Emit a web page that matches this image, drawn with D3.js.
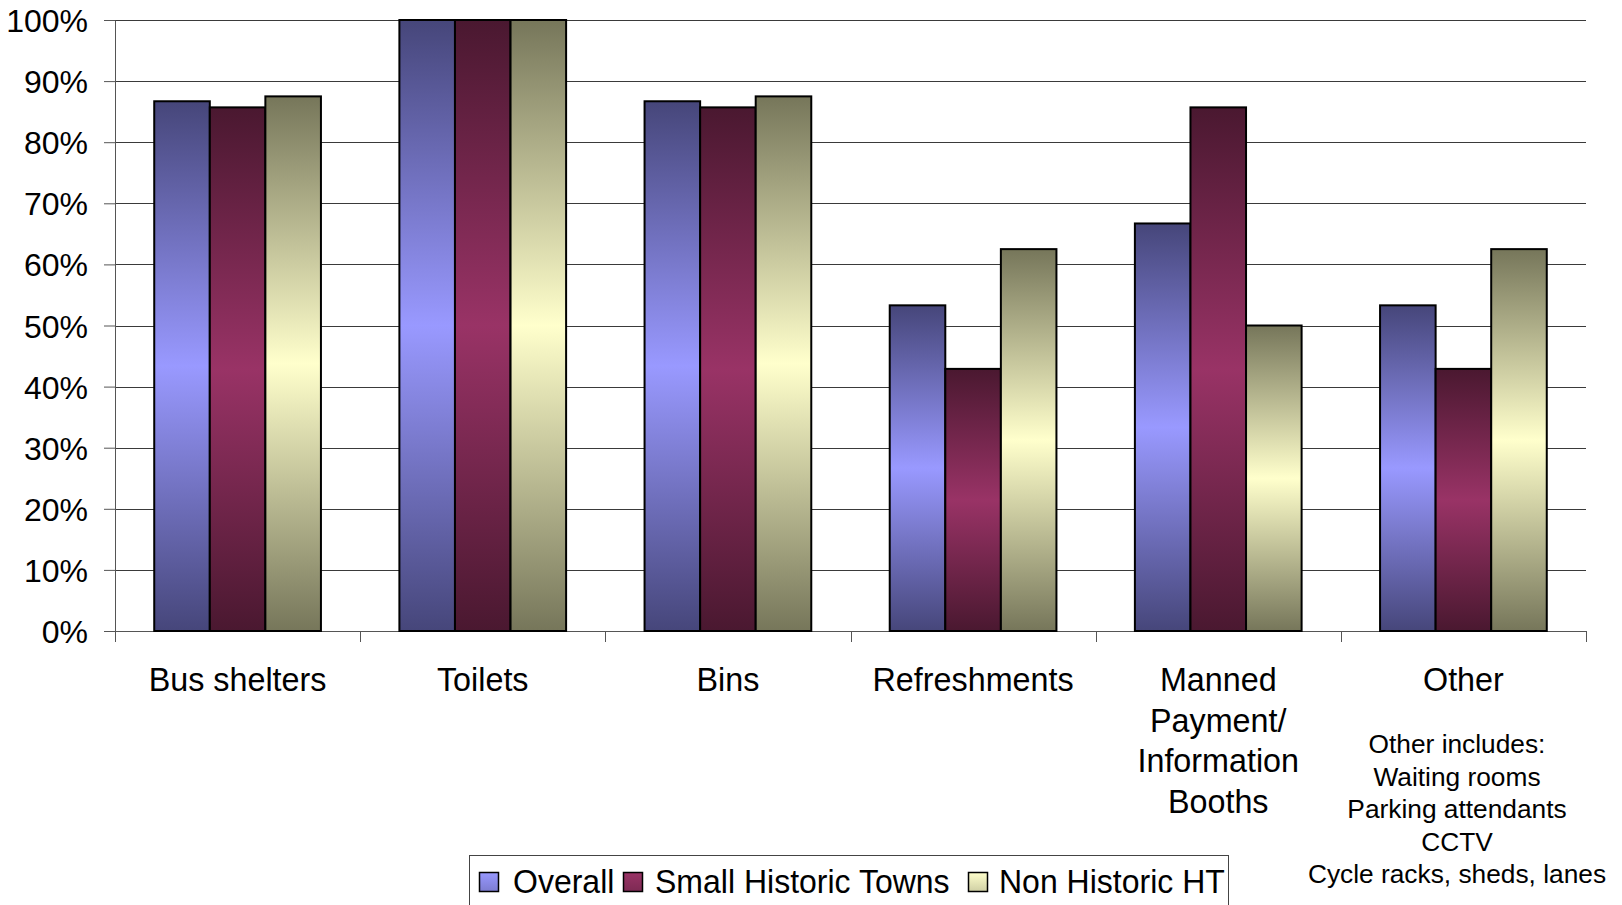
<!DOCTYPE html>
<html>
<head>
<meta charset="utf-8">
<script src="https://cdn.jsdelivr.net/npm/d3@7"></script>
<style>
  html, body { margin: 0; padding: 0; background: #fff; }
  svg { display: block; font-family: "Liberation Sans", Arial, sans-serif; }
</style>
</head>
<body>
<svg id="chart" width="1622" height="905"></svg>
<script>
// Facilities available at stations, share of towns by group
const categories = ["Bus shelters", "Toilets", "Bins", "Refreshments", "Manned Payment/ Information Booths", "Other"];
const categoryLines = [["Bus shelters"], ["Toilets"], ["Bins"], ["Refreshments"], ["Manned", "Payment/", "Information", "Booths"], ["Other"]];
const seriesNames = ["Overall", "Small Historic Towns", "Non Historic HT"];
const overall = [86.7, 100, 86.7, 53.3, 66.7, 53.3];
const smallHistoric = [85.7, 100, 85.7, 42.9, 85.7, 42.9];
const nonHistoric = [87.5, 100, 87.5, 62.5, 50.0, 62.5];
const yTicks = [0, 10, 20, 30, 40, 50, 60, 70, 80, 90, 100];
const otherNote = ["Other includes:", "Waiting rooms", "Parking attendants", "CCTV", "Cycle racks, sheds, lanes"];

const seriesValues = [overall, smallHistoric, nonHistoric];
// gradient stops: [edge colour, centre colour]
const seriesShades = [["#46467a", "#9999ff"], ["#4a1830", "#993366"], ["#76765a", "#ffffcc"]];

const svg = d3.select("#chart");
const plotLeft = 115, plotRight = 1586, plotTop = 20, plotBottom = 631;

const defs = svg.append("defs");
seriesShades.forEach((s, i) => {
  const g = defs.append("linearGradient").attr("id", "grad" + i)
    .attr("x1", 0).attr("y1", 0).attr("x2", 0).attr("y2", 1);
  g.append("stop").attr("offset", "0%").attr("stop-color", s[0]);
  g.append("stop").attr("offset", "50%").attr("stop-color", s[1]);
  g.append("stop").attr("offset", "100%").attr("stop-color", s[0]);
});

const y = d3.scaleLinear().domain([0, 100]).range([plotBottom, plotTop]);
const x0 = d3.scaleBand().domain(categories).range([plotLeft, plotRight])
  .paddingInner(0.32).paddingOuter(0.16);
const x1 = d3.scaleBand().domain(seriesNames).range([0, x0.bandwidth()]);
const step = x0.step();

// gridlines
svg.append("g").selectAll("line").data(yTicks.slice(1)).join("line")
  .attr("x1", plotLeft).attr("x2", plotRight)
  .attr("y1", d => Math.round(y(d)) + 0.5).attr("y2", d => Math.round(y(d)) + 0.5)
  .attr("stroke", "#3a3a3a").attr("stroke-width", 1);

// y axis
const yAxis = svg.append("g").attr("transform", `translate(${plotLeft},0)`)
  .call(d3.axisLeft(y).tickValues(yTicks).tickSize(11).tickSizeOuter(0).tickFormat(d => d + "%"));
yAxis.select(".domain").attr("stroke", "#555");
yAxis.selectAll(".tick line").attr("stroke", "#555");
yAxis.selectAll(".tick text").attr("font-size", 32).attr("fill", "#000")
  .attr("font-family", "Liberation Sans, Arial, sans-serif")
  .attr("x", -27).attr("dy", "0.36em");

// x axis line and category ticks
svg.append("line").attr("x1", plotLeft).attr("x2", plotRight)
  .attr("y1", plotBottom + 0.5).attr("y2", plotBottom + 0.5).attr("stroke", "#555");
svg.append("g").selectAll("line").data(d3.range(categories.length + 1)).join("line")
  .attr("x1", i => Math.round(plotLeft + i * step) + 0.5).attr("x2", i => Math.round(plotLeft + i * step) + 0.5)
  .attr("y1", plotBottom).attr("y2", plotBottom + 11).attr("stroke", "#555");

// bars
const groups = svg.append("g").selectAll("g").data(categories).join("g")
  .attr("transform", c => `translate(${x0(c)},0)`);
groups.selectAll("rect").data((c, ci) => seriesNames.map((s, si) => ({ s, si, v: seriesValues[si][ci] })))
  .join("rect")
  .attr("x", d => x1(d.s)).attr("width", x1.bandwidth())
  .attr("y", d => y(d.v)).attr("height", d => y(0) - y(d.v))
  .attr("fill", d => `url(#grad${d.si})`)
  .attr("stroke", "#000").attr("stroke-width", 2);

// category labels
const catLabels = svg.append("g").selectAll("text").data(categories).join("text")
  .attr("x", c => x0(c) + x0.bandwidth() / 2)
  .attr("y", 691).attr("text-anchor", "middle").attr("font-size", 32.3).attr("fill", "#000");
catLabels.selectAll("tspan").data((c, i) => categoryLines[i]).join("tspan")
  .attr("x", function () { return this.parentNode.getAttribute("x"); })
  .attr("dy", (d, i) => i === 0 ? 0 : 40.5).text(d => d);

// note under "Other"
svg.append("g").selectAll("text").data(otherNote).join("text")
  .attr("x", 1457).attr("y", (d, i) => 753 + i * 32.5)
  .attr("text-anchor", "middle").attr("font-size", 26.3).attr("fill", "#000").text(d => d);

// legend
const legend = svg.append("g");
legend.append("rect").attr("x", 469.5).attr("y", 855.5).attr("width", 759).attr("height", 70)
  .attr("fill", "#fff").attr("stroke", "#444").attr("stroke-width", 1);
const swatchX = [479, 623, 968];
const labelX = [513, 655, 999];
seriesShades.forEach((s, i) => {
  const g = defs.append("linearGradient").attr("id", "lgrad" + i)
    .attr("x1", 0).attr("y1", 0).attr("x2", 0).attr("y2", 1);
  g.append("stop").attr("offset", "0%").attr("stop-color", s[1]);
  g.append("stop").attr("offset", "100%").attr("stop-color", d3.interpolateRgb(s[1], s[0])(0.35));
});
seriesNames.forEach((name, i) => {
  legend.append("rect").attr("x", swatchX[i] + 0.5).attr("y", 872.5).attr("width", 19).attr("height", 19)
    .attr("fill", `url(#lgrad${i})`).attr("stroke", "#000").attr("stroke-width", 1.5);
  legend.append("text").attr("transform", `translate(${labelX[i]},893) scale(0.97,1)`)
    .attr("font-size", 33).attr("fill", "#000").text(name);
});
</script>
</body>
</html>
